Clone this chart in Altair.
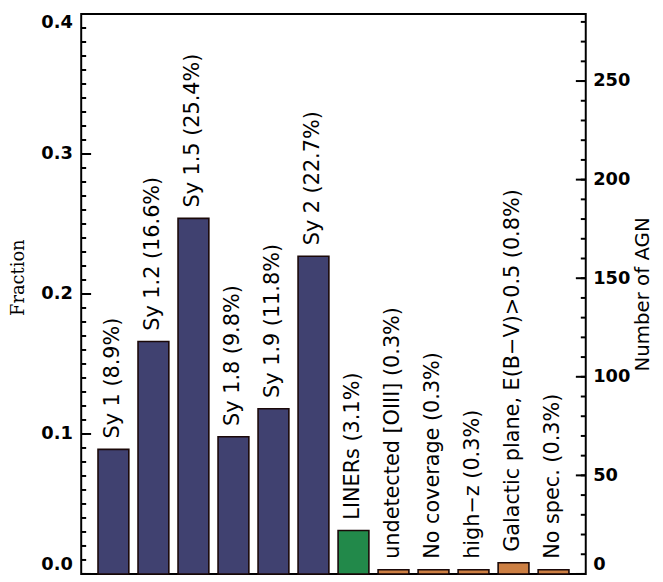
import altair as alt
import pandas as pd

# ---- data ----
categories = ["Sy 1", "Sy 1.2", "Sy 1.5", "Sy 1.8", "Sy 1.9", "Sy 2",
              "LINERs", "undetected [OIII]", "No coverage", "high\u2212z",
              "Galactic plane, E(B\u2212V)>0.5", "No spec."]
percent = [8.9, 16.6, 25.4, 9.8, 11.8, 22.7, 3.1, 0.3, 0.3, 0.3, 0.8, 0.3]
groups = ["Seyfert"] * 6 + ["LINER"] + ["Other"] * 5
TOTAL_AGN = 710  # right axis: number of AGN = fraction * total

frac_major = [0.0, 0.1, 0.2, 0.3, 0.4]
frac_minor = [round(i * 0.01, 2) for i in range(0, 41)]
count_major = [0, 50, 100, 150, 200, 250]
count_minor = list(range(0, 290, 10))

W, H = 510, 566

df = pd.DataFrame({
    "cat": categories,
    "frac": [p / 100 for p in percent],
    "label": [f"{c} ({p}%)" for c, p in zip(categories, percent)],
    "group": groups,
})

xscale = alt.Scale(domain=categories, paddingInner=0.23, paddingOuter=0.42)
yscale = alt.Scale(domain=[0, 0.4], nice=False, zero=True)
cscale = alt.Scale(domain=[0, 0.4 * TOTAL_AGN], nice=False, zero=True)

left_axis = alt.Axis(orient="left", values=frac_major, format=".1f", ticks=False,
                     domain=False, grid=False, labelPadding=9, labelFlush=True,
                     labelFont="DejaVu Sans", labelFontWeight="bold",
                     labelFontSize=18, labelColor="black",
                     title="Fraction", titleFont="DejaVu Serif",
                     titleFontSize=18, titleFontWeight="normal",
                     titleColor="black", titleAngle=270,
                     titleX=-63, titleY=266, titleAlign="center",
                     titleBaseline="middle")

right_axis = alt.Axis(orient="right", values=count_major, ticks=False, domain=False,
                      grid=False, labelPadding=7, labelFlush=True,
                      labelFont="DejaVu Sans", labelFontWeight="bold",
                      labelFontSize=18, labelColor="black",
                      title="Number of AGN", titleFont="DejaVu Sans",
                      titleFontSize=20, titleFontWeight="normal",
                      titleColor="black", titleAngle=270,
                      titleX=57, titleY=H / 2, titleAlign="center",
                      titleBaseline="middle")

bars = alt.Chart(df).mark_bar(stroke="#1a0808", strokeWidth=1.6).encode(
    x=alt.X("cat:N", scale=xscale, sort=categories, axis=None),
    y=alt.Y("frac:Q", scale=yscale, axis=left_axis),
    color=alt.Color("group:N",
                    scale=alt.Scale(domain=["Seyfert", "LINER", "Other"],
                                    range=["#404170", "#22894a", "#cd7f43"]),
                    legend=None),
)

texts = alt.Chart(df).mark_text(angle=270, align="left", baseline="middle", dx=11,
                                font="DejaVu Sans", fontSize=21, color="black").encode(
    x=alt.X("cat:N", scale=xscale, sort=categories, axis=None),
    y=alt.Y("frac:Q", scale=yscale, axis=None),
    text="label:N",
)

lmaj = alt.Chart(pd.DataFrame({"v": frac_major})).mark_rule(color="black", strokeWidth=2).encode(
    y=alt.Y("v:Q", scale=yscale, axis=None), x=alt.value(0), x2=alt.value(10))
lmin = alt.Chart(pd.DataFrame({"v": frac_minor})).mark_rule(color="black", strokeWidth=2).encode(
    y=alt.Y("v:Q", scale=yscale, axis=None), x=alt.value(0), x2=alt.value(5))

rmaj = alt.Chart(pd.DataFrame({"n": count_major})).mark_rule(color="black", strokeWidth=2).encode(
    y=alt.Y("n:Q", scale=cscale, axis=right_axis),
    x=alt.value(W - 10), x2=alt.value(W))
rmin = alt.Chart(pd.DataFrame({"n": count_minor})).mark_rule(color="black", strokeWidth=2).encode(
    y=alt.Y("n:Q", scale=cscale, axis=None), x=alt.value(W - 5), x2=alt.value(W))

chart = alt.layer(bars, texts, lmin, lmaj, rmin, rmaj).resolve_scale(
    y="independent").properties(
    width=W, height=H,
    autosize=alt.AutoSizeParams(type="none"),
    padding={"left": 74, "top": 3, "right": 70, "bottom": 0},
    background="white",
).configure_view(stroke="black", strokeWidth=2)

chart.save("out.html", embed_options={"renderer": "svg", "actions": False})
